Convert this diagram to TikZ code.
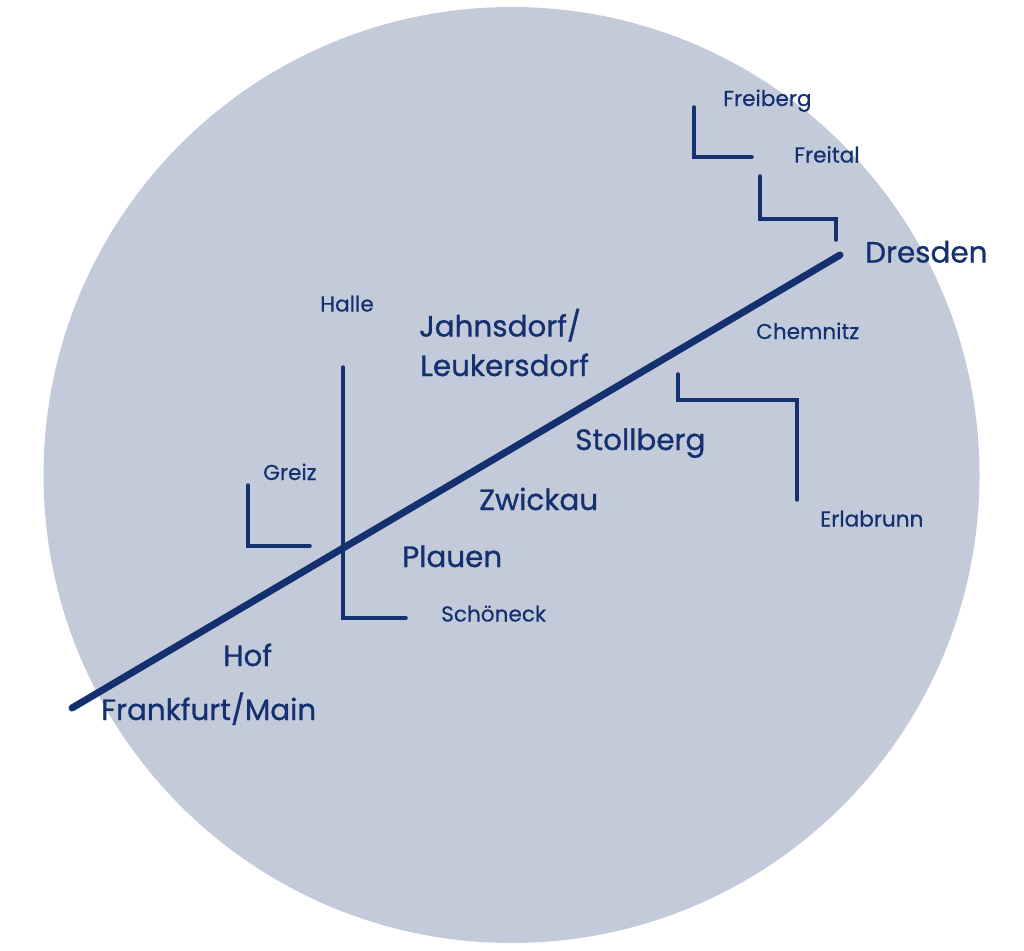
\documentclass[tikz,border=0pt]{standalone}
\usepackage{fontspec}
\setmainfont{Poppins}
\newfontfamily\bigfont[FakeBold=0.9]{Poppins}
\newfontfamily\smallfont[FakeBold=0.4]{Poppins}
\definecolor{navy}{RGB}{20,48,110}
\definecolor{disc}{RGB}{195,203,219}
\begin{document}
\begin{tikzpicture}[x=1pt,y=-1pt,
  small/.style={anchor=base west,inner sep=0pt,text=navy,font=\smallfont\fontsize{21.6}{24}\selectfont},
  big/.style={anchor=base west,inner sep=0pt,text=navy,font=\bigfont\fontsize{29.4}{32}\selectfont},
  thin/.style={draw=navy,line width=3.5pt,line cap=round,line join=miter},
  trunk/.style={draw=navy,line width=7pt,line cap=round}]
\useasboundingbox (0,0) rectangle (1024,950);
\fill[disc] (511.5,475) circle (468);
% trunk line
\coordinate (ffm) at (72,708);
\coordinate (dd) at (840,255);
\draw[trunk] (ffm) -- (dd);
% brackets
\coordinate (fb1) at (694,107); \coordinate (fb2) at (694,157); \coordinate (fb3) at (752,157);
\draw[thin] (fb1) -- (fb2) -- (fb3);
\coordinate (ft1) at (760,176); \coordinate (ft2) at (760,219); \coordinate (ft3) at (836,219); \coordinate (ft4) at (836,240);
\draw[thin] (ft1) -- (ft2) -- (ft3) -- (ft4);
\coordinate (st1) at (678,374); \coordinate (st2) at (678,400); \coordinate (st3) at (797,400); \coordinate (st4) at (797,500);
\draw[thin] (st1) -- (st2) -- (st3) -- (st4);
\coordinate (ha1) at (343,367); \coordinate (ha2) at (343,618); \coordinate (ha3) at (406,618);
\draw[thin] (ha1) -- (ha2) -- (ha3);
\coordinate (gr1) at (248,485); \coordinate (gr2) at (248,546); \coordinate (gr3) at (310,546);
\draw[thin] (gr1) -- (gr2) -- (gr3);
% labels
\node[small] (freiberg) at (723,106) {Freiberg};
\node[small] (freital) at (794,162.5) {Freital};
\node[big] (dresden) at (865,262.5) {Dresden};
\node[small] (chemnitz) at (756,339) {Chemnitz};
\node[big] (stollberg) at (575,450) {Stollberg};
\node[small] (erlabrunn) at (820,526.5) {Erlabrunn};
\node[big] (zwickau) at (479,510) {Zwickau};
\node[big] (plauen) at (402,567) {Plauen};
\node[big] (jahnsdorf) at (419,336.5) {Jahnsdorf/};
\node[big] (leukersdorf) at (420,376) {Leukersdorf};
\node[small] (halle) at (320,311.5) {Halle};
\node[small] (greiz) at (263,480) {Greiz};
\node[small] (schoeneck) at (441,621.5) {Schöneck};
\node[big] (hof) at (223,666) {Hof};
\node[big] (frankfurt) at (101,720) {Frankfurt/Main};
\end{tikzpicture}
\end{document}
